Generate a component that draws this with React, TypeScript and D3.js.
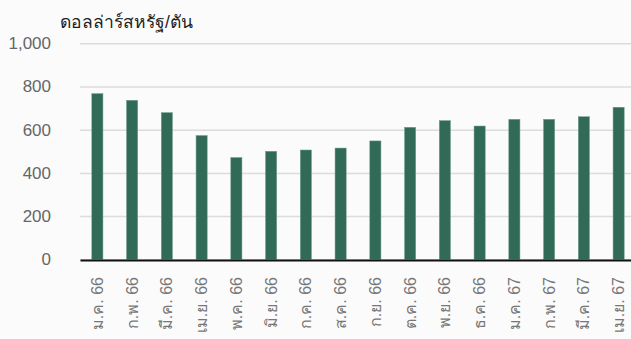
import React, { useEffect, useRef } from "react";
import * as d3 from "d3";

const months = [
  "ม.ค. 66", "ก.พ. 66", "มี.ค. 66", "เม.ย. 66", "พ.ค. 66", "มิ.ย. 66",
  "ก.ค. 66", "ส.ค. 66", "ก.ย. 66", "ต.ค. 66", "พ.ย. 66", "ธ.ค. 66",
  "ม.ค. 67", "ก.พ. 67", "มี.ค. 67", "เม.ย. 67",
];
const prices = [767, 736, 679, 573, 471, 500, 506, 515, 548, 611, 642, 617, 648, 648, 660, 704];
const yTicks = [0, 200, 400, 600, 800, 1000];
const unitLabel = "ดอลล่าร์สหรัฐ/ตัน";

const App = () => {
  const ref = useRef<SVGSVGElement>(null);

  useEffect(() => {
    const width = 631;
    const height = 339;
    const marginLeft = 80;
    const plotRight = 636;
    const yTop = 43.3;
    const yZero = 259.3;

    const svg = d3.select(ref.current);
    svg.selectAll("*").remove();

    svg.append("rect").attr("width", width).attr("height", height).attr("fill", "#fbfbfb");

    const x = d3
      .scaleBand()
      .domain(months)
      .range([marginLeft, plotRight])
      .paddingInner(0.68)
      .paddingOuter(0.34);
    const y = d3.scaleLinear().domain([0, 1000]).range([yZero, yTop]);

    // gridlines + y labels
    const yAxis = svg
      .append("g")
      .attr("transform", `translate(${marginLeft},0)`)
      .call(d3.axisLeft(y).tickValues(yTicks).tickSize(-(plotRight - marginLeft)).tickFormat(d3.format(",")).tickPadding(29))
      .call((g) => g.select(".domain").remove());
    yAxis.selectAll(".tick line").attr("stroke", "#dcdcdc").attr("stroke-width", 1.5);
    yAxis
      .selectAll(".tick text")
      .attr("fill", "#666")
      .attr("font-size", 17)
      .attr("font-family", "'Liberation Sans', Arial, sans-serif");

    // bars
    svg
      .append("g")
      .selectAll("rect")
      .data(prices)
      .join("rect")
      .attr("x", (_, i) => x(months[i])!)
      .attr("y", (d) => y(d))
      .attr("width", x.bandwidth())
      .attr("height", (d) => y(0) - y(d))
      .attr("fill", "#316b58")
      .attr("stroke", "#6f9a8a")
      .attr("stroke-width", 0.5);

    // x axis
    const xAxis = svg
      .append("g")
      .attr("transform", `translate(0,${yZero + 0.7})`)
      .call(d3.axisBottom(x).tickSize(0).tickPadding(0));
    xAxis.select(".domain").attr("stroke", "#111").attr("stroke-width", 2);
    xAxis
      .selectAll(".tick text")
      .attr("transform", "rotate(-90)")
      .attr("text-anchor", "end")
      .attr("dy", "0.35em")
      .attr("x", -17)
      .attr("y", 0)
      .attr("fill", "#777")
      .attr("font-size", 16)
      .attr("font-family", "'Liberation Sans', Arial, sans-serif");

    svg
      .append("text")
      .attr("x", 60)
      .attr("y", 28)
      .attr("fill", "#222")
      .attr("font-size", 17.5)
      .attr("font-family", "'Liberation Sans', Arial, sans-serif")
      .text(unitLabel);
  }, []);

  return (
    <svg
      ref={ref}
      width={631}
      height={339}
      style={{ position: "absolute", left: 0, top: 0, display: "block" }}
    />
  );
};

export default App;
